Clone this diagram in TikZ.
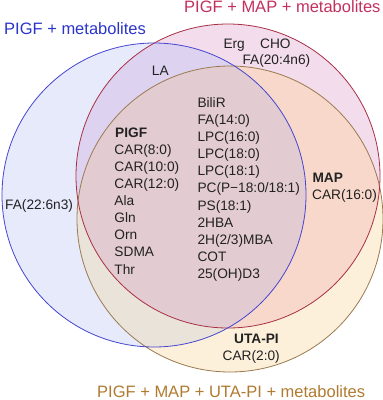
\documentclass[tikz,border=0pt]{standalone}
\usepackage{fontspec}
\setmainfont{Liberation Sans}
\definecolor{cB}{HTML}{E6EAFB}
\definecolor{cR}{HTML}{F3DDEC}
\definecolor{cO}{HTML}{FDF0DA}
\definecolor{cBR}{HTML}{DDD3F0}
\definecolor{cBO}{HTML}{E9E3DA}
\definecolor{cRO}{HTML}{F7D8CB}
\definecolor{cBRO}{HTML}{E3CBD2}
\definecolor{lB}{HTML}{4545D0}
\definecolor{lR}{HTML}{A83045}
\definecolor{lO}{HTML}{9A7A50}
\definecolor{tB}{HTML}{2B35C8}
\definecolor{tR}{HTML}{C2305E}
\definecolor{tO}{HTML}{B07A30}
\definecolor{txt}{HTML}{222222}
\begin{document}
\begin{tikzpicture}[x=1bp,y=-1bp,
  ttl/.style={anchor=base west,inner sep=0pt,font=\fontsize{16.5bp}{18bp}\selectfont},
  lbl/.style={anchor=base west,inner sep=0pt,text=txt,font=\fontsize{13.7bp}{16bp}\selectfont},
  lble/.style={lbl,anchor=base east},
  hd/.style={font=\fontsize{13.7bp}{16bp}\selectfont\bfseries}]
\useasboundingbox (0,0) rectangle (383,400);
\coordinate (B) at (154,195);
\coordinate (R) at (228,176);
\coordinate (O) at (230,219);
\def\rB{152bp}\def\rR{152bp}\def\rO{153bp}
% fills
\fill[cB] (B) circle[radius=\rB];
\fill[cR] (R) circle[radius=\rR];
\fill[cO] (O) circle[radius=\rO];
\begin{scope}\clip (B) circle[radius=\rB]; \fill[cBR] (R) circle[radius=\rR];\end{scope}
\begin{scope}\clip (B) circle[radius=\rB]; \fill[cBO] (O) circle[radius=\rO];\end{scope}
\begin{scope}\clip (R) circle[radius=\rR]; \fill[cRO] (O) circle[radius=\rO];\end{scope}
\begin{scope}\clip (B) circle[radius=\rB]; \clip (R) circle[radius=\rR]; \fill[cBRO] (O) circle[radius=\rO];\end{scope}
% outlines
\draw[lO,line width=0.8bp] (O) circle[radius=\rO];
\draw[lR,line width=0.8bp] (R) circle[radius=\rR];
\draw[lB,line width=0.8bp] (B) circle[radius=\rB];
% titles
\node[ttl,text=tB] (tb) at (4,34.5) {PIGF + metabolites};
\node[ttl,text=tR] (tr) at (184,12) {PIGF + MAP + metabolites};
\node[ttl,text=tO] (to) at (97,397) {PIGF + MAP + UTA-PI + metabolites};
% labels
\node[lbl] (fa22) at (5,209.9) {FA(22:6n3)};
\node[lbl] (la) at (151.7,75.6) {LA};
\node[lbl] (erg) at (223.3,48.2) {Erg};
\node[lbl] (cho) at (260,48.2) {CHO};
\node[lbl] (fa20) at (242.3,64.9) {FA(20:4n6)};
\node[lbl,hd] (pigf) at (115,137.2) {PIGF};
\foreach \t [count=\i] in {CAR(8:0),CAR(10:0),CAR(12:0),Ala,Gln,Orn,SDMA,Thr}
  \node[lbl] (p\i) at (114.3,137.2+17.1*\i) {\t};
\foreach \t [count=\i from 0] in {BiliR,FA(14:0),LPC(16:0),LPC(18:0),LPC(18:1),PC(P−18:0/18:1),PS(18:1),2HBA,2H(2/3)MBA,COT,25(OH)D3}
  \node[lbl] (c\i) at (197.3,107.6+17.07*\i) {\t};
\node[lbl,hd] (map) at (312.3,182.2) {MAP};
\node[lbl] (car16) at (312,199.9) {CAR(16:0)};
\node[lble,hd] (uta) at (279,343.9) {UTA-PI};
\node[lble] (car2) at (280,360.9) {CAR(2:0)};
\end{tikzpicture}
\end{document}
